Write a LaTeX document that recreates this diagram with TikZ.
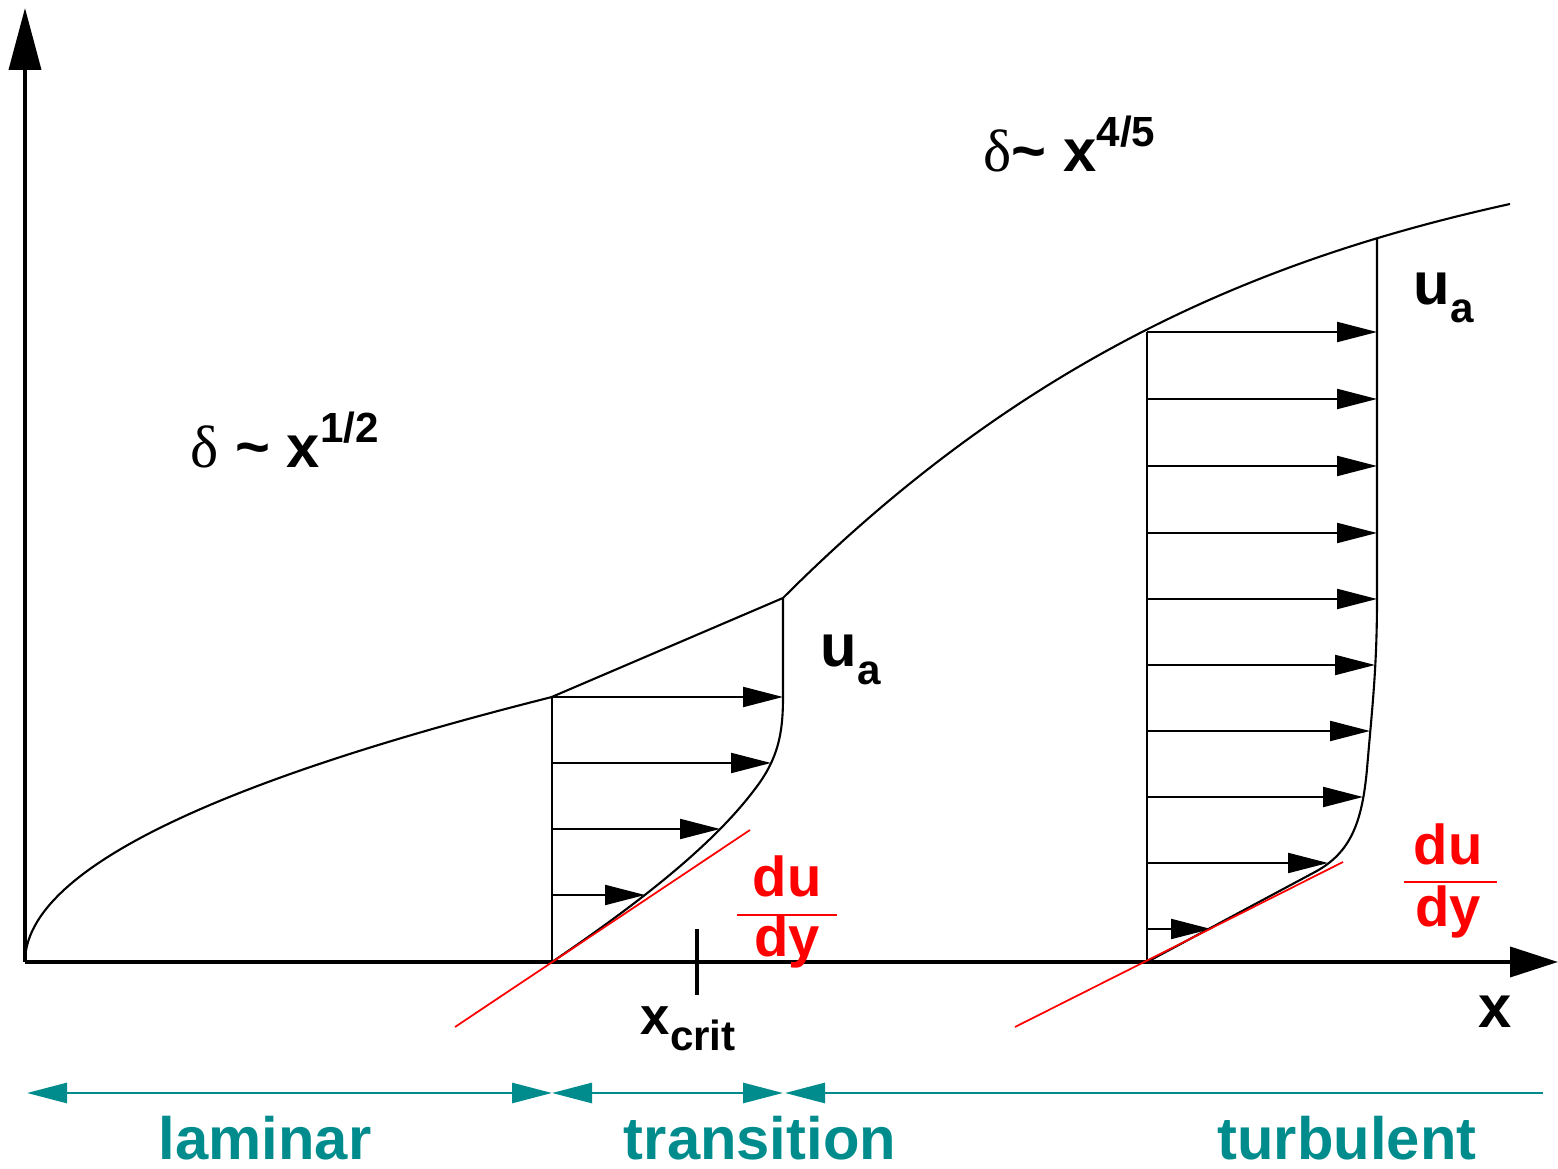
\documentclass[tikz,border=0pt]{standalone}
\usepackage{fontspec}
\setmainfont{Liberation Sans}
\newfontfamily\greekfont{Liberation Serif}
\usepackage{xcolor}
\usepackage{tikz}
\usetikzlibrary{arrows.meta, positioning}
\definecolor{regimeteal}{RGB}{0,140,140}
\newcommand{\expo}[1]{\raisebox{0.42em}{\fontsize{12}{12}\selectfont #1}}
\newcommand{\indice}[1]{\raisebox{-0.3em}{\fontsize{12}{12}\selectfont #1}}

\begin{document}
\begin{tikzpicture}[
        axis/.style={line width=1.1pt},
        contour/.style={line width=0.6pt},
        vel/.style={line width=0.6pt, -{Triangle[length=4mm, width=2mm]}},
        tangent/.style={red, line width=0.5pt},
        lbl/.style={inner sep=0pt, font=\fontsize{17}{20}\selectfont\bfseries},
        redlbl/.style={inner sep=0pt, red, font=\fontsize{16}{19}\selectfont\bfseries},
        regime/.style={regimeteal, line width=0.8pt},
        regimelbl/.style={inner sep=0pt, regimeteal, font=\fontsize{17}{20}\selectfont\bfseries}
    ]
    \useasboundingbox (0,0) rectangle (15.58,11.69);

    \coordinate (O) at (0.25,2.07);
    \coordinate (ytip) at (0.25,11.61);
    \coordinate (xtip) at (15.58,2.07);
    \coordinate (trfoot) at (5.52,2.07);
    \coordinate (trtop) at (5.52,4.72);
    \coordinate (trend) at (7.83,5.71);
    \coordinate (tufoot) at (11.47,2.07);
    \coordinate (tutop) at (11.47,8.37);
    \coordinate (tuedge) at (13.77,9.31);

    % Eixos
    \draw[axis, -{Triangle[length=6.2mm, width=3.2mm]}] (O) -- (ytip);
    \draw[axis, -{Triangle[length=4.8mm, width=3mm]}] (O) -- (xtip);

    % Camada limite
    \draw[contour] plot[domain=0:1, samples=60] ({0.25+5.27*\x*\x},{2.07+2.65*\x}) -- (trend);
    \draw[contour] (trend) .. controls (10.23,8.11) and (12.60,9.10) .. (15.10,9.65);

    % Perfil na transicao
    \draw[contour] (trfoot) -- (trtop);
    \draw[contour] (trfoot) .. controls (6.30,2.60) and (7.10,3.20) .. (7.55,3.80)
        .. controls (7.78,4.10) and (7.83,4.35) .. (7.83,4.72) -- (trend);
    \foreach \y/\u in {4.72/7.83, 4.06/7.71, 3.40/7.20, 2.74/6.45}
        \draw[vel] (5.52,\y) -- (\u,\y);

    % Perfil turbulento
    \draw[contour] (tufoot) -- (tutop);
    \draw[contour] (tufoot) -- (13.15,2.97) .. controls (13.50,3.16) and (13.62,3.45) .. (13.67,4.00)
        .. controls (13.72,4.60) and (13.77,5.00) .. (13.77,5.70) -- (tuedge);
    \foreach \y/\u in {8.37/13.77, 7.70/13.77, 7.03/13.77, 6.36/13.77, 5.70/13.77, 5.04/13.75, 4.38/13.70, 3.72/13.63, 3.06/13.28, 2.40/12.11}
        \draw[vel] (11.47,\y) -- (\u,\y);

    % Tangentes na parede
    \draw[tangent] (4.55,1.42) -- (7.50,3.39);
    \draw[tangent] (10.15,1.42) -- (13.43,3.07);

    % Marca de x_crit
    \draw[axis] (6.97,2.40) -- (6.97,1.74);

    \node[lbl, anchor=base west] (lamlaw) at (1.90,7.01) {{\greekfont\mdseries δ} \textasciitilde{} x\expo{1/2}};
    \node[lbl, anchor=base west] (turblaw) at (9.83,9.97) {{\greekfont\mdseries δ}\textasciitilde{} x\expo{4/5}};
    \node[lbl, anchor=base west] (uatr) at (8.20,5.02) {u\indice{a}};
    \node[lbl, anchor=base west] (uatu) at (14.13,8.64) {u\indice{a}};
    \node[lbl, anchor=base west] (xlbl) at (14.78,1.41) {x};
    \node[lbl, font=\fontsize{15}{18}\selectfont\bfseries, anchor=base west] (xcrit) at (6.40,1.34) {x\indice{crit}};

    % du/dy
    \node[redlbl, anchor=base] (dutr) at (7.87,2.72) {du};
    \node[redlbl, anchor=base] (dytr) at (7.87,2.12) {dy};
    \draw[red, line width=0.6pt] (7.37,2.54) -- (8.37,2.54);
    \node[redlbl, anchor=base] (dutu) at (14.48,3.04) {du};
    \node[redlbl, anchor=base] (dytu) at (14.48,2.42) {dy};
    \draw[red, line width=0.6pt] (14.04,2.87) -- (14.97,2.87);

    % Regimes
    \coordinate (r0) at (0.27,0.76);
    \coordinate (r1) at (5.52,0.76);
    \coordinate (r2) at (7.83,0.76);
    \coordinate (r3) at (7.85,0.76);
    \coordinate (r4) at (15.43,0.76);
    \draw[regime, {Triangle[length=4mm, width=2mm]}-{Triangle[length=4mm, width=2mm]}] (r0) -- (r1);
    \draw[regime, {Triangle[length=4mm, width=2mm]}-{Triangle[length=4mm, width=2mm]}] (r1) -- (r2);
    \draw[regime, {Triangle[length=4mm, width=2mm]}-] (r3) -- (r4);
    \node[regimelbl, anchor=base] (laminar) at (2.65,0.09) {laminar};
    \node[regimelbl, anchor=base] (transition) at (7.60,0.09) {transition};
    \node[regimelbl, anchor=base] (turbulent) at (13.47,0.09) {turbulent};
\end{tikzpicture}
\end{document}
